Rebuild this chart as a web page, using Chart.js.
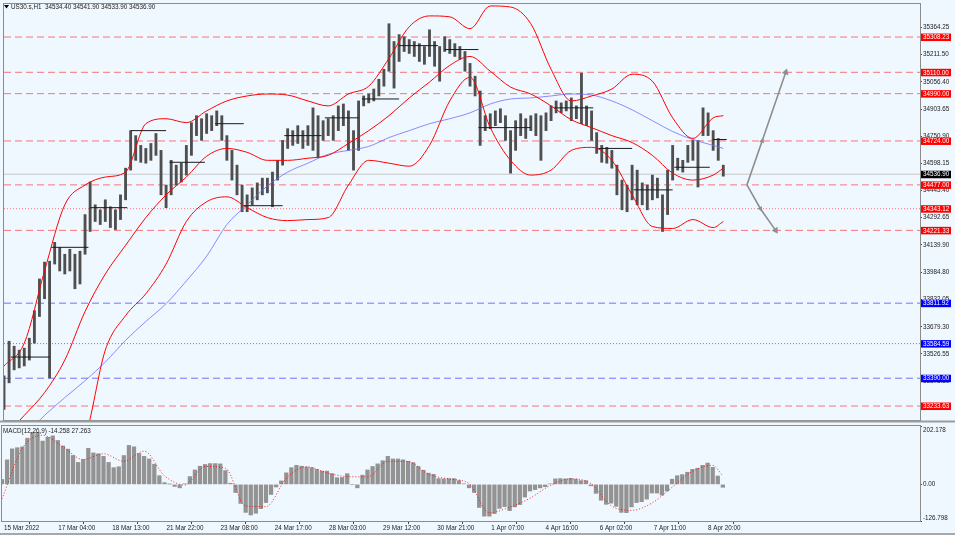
<!DOCTYPE html>
<html>
<head>
<meta charset="utf-8">
<title>US30.s,H1</title>
<script src="https://cdn.jsdelivr.net/npm/chart.js@4.4.1/dist/chart.umd.min.js"></script>
<style>
  html, body { margin: 0; padding: 0; background: #f0f8ff; }
  #wrap { position: relative; width: 955px; height: 535px; overflow: hidden; }
  #price { position: absolute; left: 0; top: 0; width: 955px; height: 424px; }
  #macd { position: absolute; left: 0; top: 410px; width: 955px; height: 125px; }
</style>
</head>
<body>
<div id="wrap">
  <canvas id="price" width="955" height="424"></canvas>
  <canvas id="macd" width="955" height="125"></canvas>
</div>
<script>
// ---- data ----
const symbol = 'US30.s,H1';
const lastOhlc = [34534.40, 34541.90, 34533.90, 34536.90];
const lastPrice = 34536.90;
const macdInfo = [-14.258, 27.263];

// x axis: one unit = one H1 bar, a label every 32 bars
const timeLabels = ['15 Mar 2022', '17 Mar 04:00', '18 Mar 13:00', '21 Mar 22:00', '23 Mar 08:00',
  '24 Mar 17:00', '28 Mar 03:00', '29 Mar 12:00', '30 Mar 21:00', '1 Apr 07:00', '4 Apr 16:00',
  '6 Apr 02:00', '7 Apr 11:00', '8 Apr 20:00'];
const BARS_PER_LABEL = 32;
const X_MAX = 542.5;

const priceTicks = [35364.25, 35211.50, 35056.40, 34903.65, 34750.90, 34598.15, 34445.40,
  34292.65, 34139.90, 33984.80, 33832.05, 33679.30, 33526.55, 33373.80, 33221.05];
const PRICE_MIN = 33155.1;
const PRICE_MAX = 35494.0;

// price ranges, one sample every 3 bars
const STEP = 3;
const priceHigh = [
  33403, 33598, 33570, 33548, 33559, 33615, 33770, 33948, 34043, 34048,
  34154, 34126, 34087, 34115, 34087, 34104, 34310, 34493, 34365, 34337,
  34393, 34354, 34337, 34421, 34571, 34782, 34754, 34699, 34682, 34710,
  34766, 34671, 34476, 34615, 34588, 34599, 34699, 34827, 34866, 34849,
  34877, 34866, 34893, 34866, 34754, 34671, 34588, 34476, 34421, 34460,
  34488, 34515, 34515, 34549, 34615, 34727, 34793, 34782, 34810, 34782,
  34810, 34910, 34866, 34838, 34849, 34866, 34921, 34932, 34893, 34782,
  34949, 34977, 34988, 35016, 35071, 35127, 35383, 35283, 35322, 35310,
  35294, 35283, 35271, 35255, 35349, 35283, 35255, 35310, 35294, 35271,
  35255, 35227, 35160, 35088, 35005, 34866, 34877, 34893, 34905, 34866,
  34782, 34838, 34877, 34849, 34866, 34877, 34866, 34882, 34921, 34949,
  34938, 34949, 34966, 34921, 35105, 34921, 34893, 34771, 34699, 34688,
  34671, 34588, 34504, 34476, 34588, 34560, 34488, 34476, 34532, 34515,
  34421, 34560, 34699, 34627, 34615, 34699, 34727, 34727, 34910, 34882,
  34782, 34738, 34588];
const priceLow = [
  33214, 33364, 33437, 33448, 33459, 33492, 33587, 33737, 33837, 33392,
  34032, 33993, 33976, 33993, 33893, 33920, 34087, 34215, 34271, 34254,
  34271, 34237, 34226, 34282, 34393, 34560, 34615, 34604, 34599, 34615,
  34643, 34421, 34349, 34421, 34476, 34493, 34532, 34643, 34754, 34727,
  34766, 34782, 34810, 34727, 34615, 34504, 34421, 34326, 34326, 34365,
  34393, 34421, 34432, 34354, 34504, 34588, 34682, 34699, 34710, 34682,
  34699, 34671, 34632, 34727, 34754, 34727, 34782, 34810, 34671, 34560,
  34671, 34921, 34938, 34949, 34977, 35032, 35116, 35021, 35171, 35227,
  35216, 35199, 35171, 35155, 35199, 35144, 35060, 35227, 35216, 35199,
  35183, 35116, 35032, 34977, 34699, 34782, 34793, 34810, 34827, 34727,
  34543, 34671, 34754, 34738, 34782, 34754, 34615, 34782, 34838, 34882,
  34882, 34893, 34838, 34849, 34821, 34810, 34727, 34654, 34604, 34599,
  34571, 34421, 34337, 34326, 34393, 34365, 34365, 34337, 34393, 34404,
  34215, 34310, 34504, 34560, 34549, 34604, 34615, 34465, 34754, 34754,
  34671, 34615, 34526];

// Bollinger bands and moving average, one sample every 12 bars
const bandBars = [0, 12, 24, 36, 48, 60, 72, 84, 96, 108, 120, 132, 144, 156, 168, 180, 192, 204,
  216, 228, 240, 252, 264, 276, 288, 300, 312, 324, 336, 348, 360, 372, 384, 396, 408, 420, 426];
const upperBand = [33459, 33587, 33993, 34365, 34476, 34521, 34549, 34821, 34849, 34827, 34893,
  34949, 34977, 34988, 34982, 34949, 34921, 34988, 35032, 35188, 35366, 35427, 35422, 35355,
  35483, 35477, 35383, 35127, 34949, 34977, 35016, 35099, 35060, 34854, 34738, 34854, 34866];
const middleBand = [33059, 33181, 33309, 33492, 33765, 33976, 34137, 34293, 34421, 34521, 34638,
  34682, 34660, 34615, 34615, 34627, 34643, 34710, 34782, 34866, 34966, 35055, 35149, 35199,
  35116, 35027, 34988, 34921, 34843, 34799, 34754, 34715, 34643, 34543, 34504, 34532, 34571];
const lowerBand = [32614, 32725, 32836, 32947, 33059, 33548, 33742, 33865, 34032, 34271, 34382,
  34410, 34349, 34293, 34276, 34282, 34293, 34476, 34615, 34599, 34582, 34699, 34949, 35082,
  34799, 34615, 34532, 34560, 34671, 34688, 34615, 34421, 34243, 34232, 34282, 34237, 34271];
const maLine = [32975, 33070, 33181, 33281, 33376, 33481, 33603, 33709, 33809, 33937, 34076,
  34254, 34365, 34471, 34549, 34599, 34649, 34671, 34693, 34743, 34782, 34821, 34849, 34882,
  34932, 34960, 34966, 34977, 34988, 34982, 34949, 34899, 34838, 34777, 34732, 34699, 34682];

// short black session lines
const segStart = [4, 28, 51, 75, 98, 125, 142, 166, 190, 212, 234, 261, 281, 326, 352, 373, 397, 420];
const segEnd = [27, 50, 73, 96, 119, 142, 165, 188, 210, 234, 257, 281, 312, 349, 372, 396, 418, 428];
const segPrice = [33509, 34126, 34349, 34782, 34604, 34821, 34360, 34754, 34854, 34960, 35260,
  35238, 34799, 34910, 34682, 34449, 34576, 34732];

// horizontal levels
const levelValues = [35308.23, 35110.00, 34990.00, 34724.00, 34477.00, 34343.12, 34221.33,
  33811.92, 33584.59, 33390.00, 33233.63];

// projection arrows [bar, price]
const arrowUp = [[440, 34477], [449, 34724], [463, 35110]];
const arrowDown = [[440, 34477], [448, 34343.12], [457, 34221.33]];

// MACD(12,26,9): histogram every 3 bars, signal every 12 bars (bandBars)
const macdHist = [
  17, 85, 123, 127, 130, 160, 180, 180, 150, 163,
  168, 152, 133, 122, 100, 76, 86, 125, 109, 106,
  97, 76, 58, 61, 100, 135, 130, 107, 97, 88,
  70, 30, 6, 1, -7, -12, 2, 27, 50, 63,
  69, 72, 72, 71, 48, 4, -28, -66, -97, -106,
  -100, -84, -63, -35, -9, 12, 40, 58, 66, 63,
  60, 58, 52, 46, 46, 37, 23, 24, 37, 0,
  -12, 32, 50, 62, 71, 82, 97, 88, 88, 85,
  80, 75, 62, 49, 39, 35, 20, 19, 20, 20,
  13, 2, -12, -28, -80, -110, -110, -101, -83, -77,
  -91, -78, -70, -44, -23, -18, -12, -8, 2, 19,
  20, 19, 21, 18, 13, 13, -5, -31, -55, -69,
  -65, -76, -97, -98, -78, -63, -60, -51, -30, -30,
  -37, -23, 18, 30, 34, 42, 52, 56, 66, 74,
  59, 29, -10];
const macdSignal = [-50, 125, 170, 130, 86, 106, 80, 115, 30, -2, 62, 56, -75, -77, 21, 61, 40,
  27, 26, 80, 79, 35, 19, 3, -98, -79, -48, -4, 19, 3, -74, -90, -65, -10, 45, 66, 29];
const macdTicks = [202.178, 0, -126.798];

// ---- styling ----
const FONT = { family: '"Liberation Sans", Arial, sans-serif', size: 6.3 };
const FONT_CSS = '6.3px "Liberation Sans", Arial, sans-serif';
const FRAME = '#8c8c8c';
const TEXT = '#222';
const RED = '#ff0000', BLUE = '#0000ff';
const levelColor = [RED, RED, RED, RED, RED, RED, RED, BLUE, BLUE, BLUE, RED];
const levelDash = [[7, 4], [7, 4], [7, 4], [7, 4], [7, 4], [1, 2], [7, 4], [7, 4], [1, 2], [7, 4], [7, 4]];

const pts = (xs, ys) => ys.map((y, i) => ({ x: xs[i], y }));
const stepX = (arr) => arr.map((_, k) => k * STEP);

const sessionData = [];
segStart.forEach((s, i) => {
  sessionData.push({ x: s, y: segPrice[i] }, { x: segEnd[i], y: segPrice[i] }, { x: segEnd[i], y: null });
});

const levelSets = levelValues.map((v, i) => ({
  type: 'line',
  data: [{ x: 0, y: v }, { x: X_MAX, y: v }],
  borderColor: levelColor[i] === RED ? 'rgba(255,60,60,0.7)' : 'rgba(60,60,255,0.7)',
  borderWidth: 1,
  borderDash: levelDash[i],
  pointRadius: 0,
  order: 10
}));

const arrowSet = (data, rot) => ({
  type: 'line',
  data: data.map(([x, y]) => ({ x, y })),
  borderColor: '#8e8e8e',
  borderWidth: 1.6,
  pointStyle: 'triangle',
  pointRadius: [0, 3, 4],
  pointRotation: rot,
  pointBackgroundColor: '#8e8e8e',
  pointBorderWidth: 0,
  order: 1
});

const bandSet = (vals) => ({
  type: 'line',
  data: pts(bandBars, vals),
  borderColor: RED,
  borderWidth: 1,
  pointRadius: 0,
  cubicInterpolationMode: 'monotone',
  order: 3
});

const fixRight = (s) => { s.width = 35; s.paddingTop = 0; s.paddingBottom = 0; };

const priceDecor = {
  id: 'priceDecor',
  afterDraw(chart) {
    const { ctx, chartArea: a, scales: { y } } = chart;
    ctx.save();
    ctx.strokeStyle = FRAME;
    ctx.lineWidth = 1;
    ctx.strokeRect(a.left - 0.5, a.top - 0.5, a.right - a.left + 1, a.bottom - a.top + 1);
    ctx.fillStyle = '#9c9c9c';
    ctx.fillRect(0, a.bottom + 0.5, 955, 2);

    ctx.font = FONT_CSS;
    ctx.textBaseline = 'middle';
    levelValues.forEach((v, i) => {
      const py = y.getPixelForValue(v);
      ctx.fillStyle = levelColor[i];
      ctx.fillRect(a.right + 1, py - 3.5, 30, 7.5);
      ctx.fillStyle = '#fff';
      ctx.fillText(v.toFixed(2), a.right + 3, py + 0.5);
    });
    const pc = y.getPixelForValue(lastPrice);
    ctx.fillStyle = '#000';
    ctx.fillRect(a.right + 1, pc - 3.5, 30, 7.5);
    ctx.fillStyle = '#fff';
    ctx.fillText(lastPrice.toFixed(2), a.right + 3, pc + 0.5);

    // title
    ctx.fillStyle = '#000';
    ctx.beginPath();
    ctx.moveTo(4, 5); ctx.lineTo(9, 5); ctx.lineTo(6.5, 8.5); ctx.closePath();
    ctx.fill();
    ctx.fillStyle = TEXT;
    ctx.fillText(symbol + '  ' + lastOhlc.map(v => v.toFixed(2)).join(' '), 11, 7);
    ctx.restore();
  }
};

const macdDecor = {
  id: 'macdDecor',
  afterDraw(chart) {
    const { ctx, chartArea: a, scales: { y } } = chart;
    ctx.save();
    ctx.strokeStyle = FRAME;
    ctx.lineWidth = 1;
    ctx.strokeRect(a.left - 0.5, a.top - 0.5, a.right - a.left + 1, a.bottom - a.top + 1);
    ctx.font = FONT_CSS;
    ctx.textBaseline = 'middle';
    ctx.fillStyle = TEXT;
    macdTicks.forEach(v => {
      const py = Math.min(Math.max(y.getPixelForValue(v), a.top + 4), a.bottom - 3);
      ctx.fillText(v === 0 ? '0.00' : v.toFixed(3), a.right + 3, py);
    });
    ctx.fillText('MACD(12,26,9) ' + macdInfo[0].toFixed(3) + ' ' + macdInfo[1].toFixed(3), 3, a.top + 5);
    ctx.fillStyle = '#a8a8a8';
    ctx.fillRect(0, 123, 955, 2);
    ctx.restore();
  }
};

new Chart(document.getElementById('price'), {
  type: 'line',
  data: {
    datasets: [
      {
        type: 'line',
        data: sessionData,
        borderColor: '#1a1a1a',
        borderWidth: 1,
        pointRadius: 0,
        spanGaps: false,
        order: 2
      },
      arrowSet(arrowUp, 19),
      arrowSet(arrowDown, 148),
      bandSet(upperBand),
      bandSet(middleBand),
      bandSet(lowerBand),
      {
        type: 'line',
        data: pts(bandBars, maLine),
        borderColor: '#6f6fff',
        borderWidth: 0.8,
        pointRadius: 0,
        cubicInterpolationMode: 'monotone',
        order: 4
      },
      {
        type: 'bar',
        data: priceHigh.map((h, k) => ({ x: k * STEP, y: [priceLow[k], h] })),
        backgroundColor: '#4f4f4f',
        barThickness: 2.2,
        order: 5
      },
      {
        type: 'line',
        data: [{ x: 0, y: lastPrice }, { x: X_MAX, y: lastPrice }],
        borderColor: '#c6c6c6',
        borderWidth: 1,
        pointRadius: 0,
        order: 9
      },
      ...levelSets
    ]
  },
  options: {
    responsive: false,
    animation: false,
    devicePixelRatio: 1,
    layout: { padding: { left: 2, top: 2, bottom: 2, right: 0 } },
    plugins: { legend: { display: false }, tooltip: { enabled: false } },
    scales: {
      x: { type: 'linear', min: 0, max: X_MAX, offset: false, display: false },
      y: {
        position: 'right',
        min: PRICE_MIN,
        max: PRICE_MAX,
        afterBuildTicks: (s) => { s.ticks = priceTicks.map(v => ({ value: v })); },
        afterFit: fixRight,
        border: { color: FRAME },
        grid: { drawOnChartArea: false, tickLength: 2, color: '#444' },
        ticks: {
          autoSkip: false,
          padding: 1,
          color: TEXT,
          font: FONT,
          callback: (v) => Number(v).toFixed(2)
        }
      }
    }
  },
  plugins: [priceDecor]
});

new Chart(document.getElementById('macd'), {
  type: 'line',
  data: {
    datasets: [
      {
        type: 'line',
        data: pts(bandBars, macdSignal),
        borderColor: 'rgba(255,0,0,0.85)',
        borderWidth: 1,
        borderDash: [1, 2],
        pointRadius: 0,
        cubicInterpolationMode: 'monotone',
        order: 1
      },
      {
        type: 'bar',
        data: pts(stepX(macdHist), macdHist),
        backgroundColor: '#939393',
        barThickness: 3.6,
        order: 2
      }
    ]
  },
  options: {
    responsive: false,
    animation: false,
    devicePixelRatio: 1,
    layout: { padding: { left: 2, top: 16, bottom: 0, right: 0 } },
    plugins: { legend: { display: false }, tooltip: { enabled: false } },
    scales: {
      x: {
        type: 'linear',
        min: 0,
        max: X_MAX,
        offset: false,
        afterBuildTicks: (s) => { s.ticks = timeLabels.map((_, i) => ({ value: i * BARS_PER_LABEL })); },
        afterFit: (s) => { s.height = 14; s.paddingLeft = 0; s.paddingRight = 0; },
        border: { color: FRAME },
        grid: { drawOnChartArea: false, tickLength: 3, color: '#444' },
        ticks: {
          autoSkip: false,
          maxRotation: 0,
          align: 'start',
          labelOffset: 2,
          padding: 0,
          color: TEXT,
          font: FONT,
          callback: (v, i) => timeLabels[i]
        }
      },
      y: {
        position: 'right',
        min: -126.798,
        max: 202.178,
        afterBuildTicks: (s) => { s.ticks = macdTicks.map(v => ({ value: v })); },
        afterFit: fixRight,
        border: { color: FRAME },
        grid: { drawOnChartArea: false, tickLength: 2, color: '#444' },
        ticks: { display: false }
      }
    }
  },
  plugins: [macdDecor]
});
</script>
</body>
</html>
